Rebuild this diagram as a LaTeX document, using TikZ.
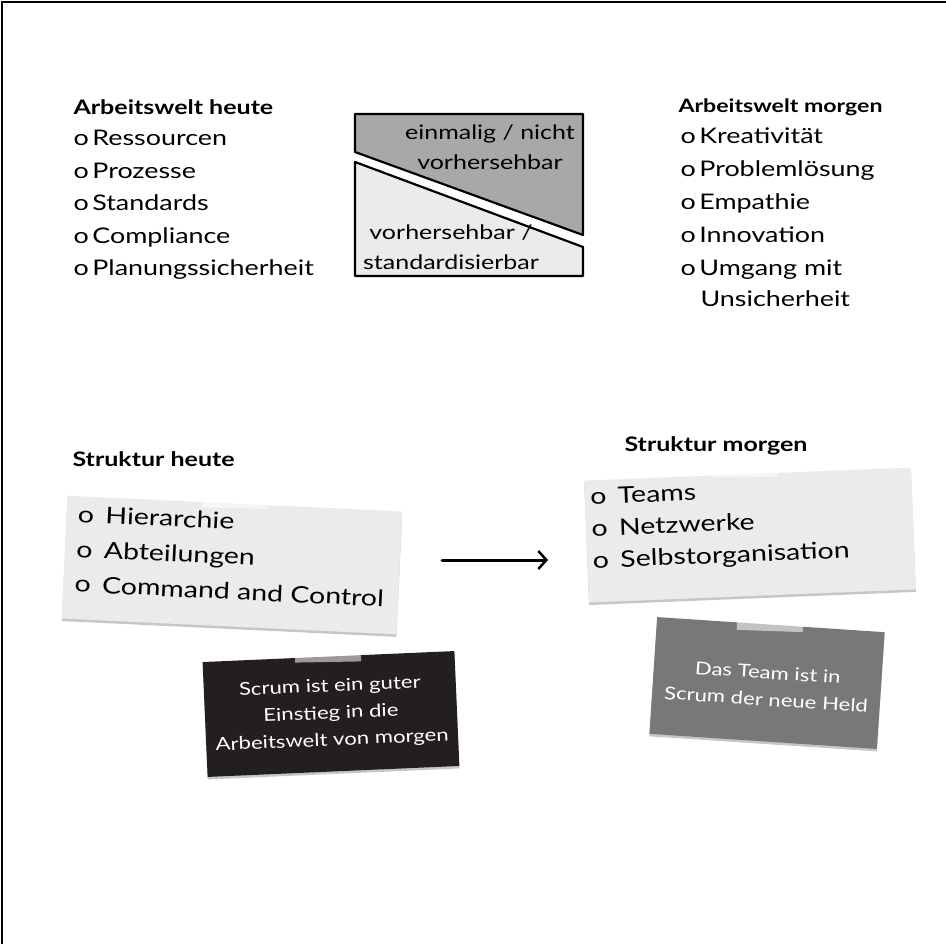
\documentclass[tikz,border=0pt]{standalone}
\usepackage{fontspec}
\setmainfont{Lato}[FakeStretch=1.25]
\usetikzlibrary{arrows.meta,%
		shadows}

\begin{document}
\begin{tikzpicture}[x=1pt,y=-1pt,
	titel/.style={anchor=base west,font=\fontsize{20}{24}\selectfont\bfseries},
	punkt/.style={anchor=base west,font=\fontsize{21.5}{24}\selectfont},
	rahmen/.style={draw=black,line width=2.2pt,line join=round},
	karte/.style={inner sep=0pt,drop shadow={shadow xshift=0pt,shadow yshift=-2.5pt,opacity=.45}},
	klebe/.style={fill=white,opacity=.55,minimum width=66pt,minimum height=16pt,inner sep=0pt},
	kartentext/.style={align=left,font=\fontsize{22.8}{35}\selectfont},
	zettel/.style={align=center,text=white,font=\fontsize{17.7}{27}\selectfont},
	pfeil/.style={line width=3pt,line cap=round,-{Straight Barb[length=8pt,width=18pt,line width=2.5pt]}}]
\useasboundingbox (0,0) rectangle (946,944);
\draw[line width=1.5pt] (2,944) -- (2,2) -- (946,2);

%Arbeitswelt heute
\node[titel] (heute) at (70,115) {Arbeitswelt heute};
\foreach \t [count=\i] in {Ressourcen,Prozesse,Standards,Compliance,Planungssicherheit}
	\node[punkt] (heute\i) at (70,113.5+32.5*\i) {o\,\t};

%das Kaestchen in der Mitte
\filldraw[rahmen,fill=black!34] (355,114) -- (583,114) -- (583,235) -- (355,152) -- cycle;
\filldraw[rahmen,fill=black!8] (355,162) -- (583,247) -- (583,276) -- (355,276) -- cycle;
\node[align=center,font=\fontsize{20}{30}\selectfont] (einmalig) at (490,147) {einmalig / nicht\\vorhersehbar};
\node[align=center,font=\fontsize{20}{30}\selectfont] (standard) at (451,247) {vorhersehbar /\\standardisierbar};

%Arbeitswelt morgen
\node[titel,font=\fontsize{18.5}{24}\selectfont\bfseries] (morgen) at (675,113) {Arbeitswelt morgen};
\foreach \t [count=\i] in {Kreativität,Problemlösung,Empathie,Innovation,Umgang mit}
	\node[punkt] (morgen\i) at (677,111+33*\i) {o\,\t};
\node[punkt] (morgen6) at (697,307) {Unsicherheit};

%Struktur heute
\node[titel] (strukturA) at (69,466) {Struktur heute};
\node[karte,fill=black!8,minimum width=335pt,minimum height=123pt,rotate=-2.7] (karteA) at (232,565) {};
\node[klebe,rotate=-1] (klebeA) at (235,500) {};
\node[kartentext,rotate=-2.7] (listeA) at (231,556) {o\enspace Hierarchie\\o\enspace Abteilungen\\o\enspace Command and Control};

%Struktur morgen
\node[titel] (strukturB) at (621,451) {Struktur morgen};
\node[karte,fill=black!8,minimum width=327pt,minimum height=122pt,rotate=2.3] (karteB) at (750,535) {};
\node[klebe,rotate=1] (klebeB) at (745,469) {};
\node[kartentext,font=\fontsize{22.8}{32}\selectfont,rotate=2.3] (listeB) at (720,525) {o\enspace Teams\\o\enspace Netzwerke\\o\enspace Selbstorganisation};

\coordinate (pfeilA) at (442,560);
\coordinate (pfeilB) at (548,560);
\draw[pfeil] (pfeilA) -- (pfeilB);

%die Zettel
\node[karte,fill={rgb,255:red,35;green,31;blue,32},minimum width=252pt,minimum height=115pt,rotate=2.5] (zettelA) at (331,714) {};
\node[klebe,rotate=1] (klebeC) at (328,654) {};
\node[zettel,rotate=2.5] (textA) at (331,714) {Scrum ist ein guter\\Einstieg in die\\Arbeitswelt von morgen};

\node[karte,fill={rgb,255:red,120;green,120;blue,122},minimum width=228pt,minimum height=117pt,rotate=-3.8] (zettelB) at (767,683) {};
\node[klebe,rotate=-2] (klebeD) at (770,623) {};
\node[zettel,rotate=-3.8] (textB) at (767,686) {Das Team ist in\\Scrum der neue Held};
\end{tikzpicture}
\end{document}
